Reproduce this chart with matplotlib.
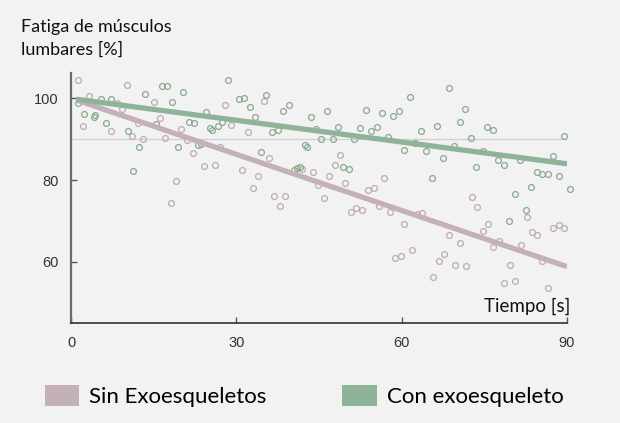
import matplotlib
matplotlib.use("Agg")
import matplotlib.pyplot as plt
from matplotlib.patches import Patch

# scatter values: (seconds, %)
sin_x = [1.2, 3.3, 2.2, 8.4, 9.2, 7.2, 11.1, 13.1, 10.1, 15.1, 16.2, 12.1, 17.1, 20.0,
         21.0, 22.1, 24.2, 26.1, 19.1, 27.1, 28.0, 29.0, 18.1, 35.0, 32.1, 48.9, 35.9,
         31.0, 34.0, 42.0, 43.9, 47.9, 46.9, 44.8, 49.8, 33.0, 36.9, 38.9, 45.9, 56.8,
         53.9, 54.9, 38.0, 50.8, 51.8, 52.8, 55.8, 57.8, 60.5, 58.8, 59.8, 72.7, 73.6,
         82.7, 62.7, 63.7, 75.7, 74.7, 68.6, 83.6, 84.6, 87.5, 88.5, 89.5, 77.7, 76.6,
         81.6, 70.6, 61.8, 67.7, 66.7, 69.7, 71.6, 85.5, 79.6, 65.7, 78.6, 80.6, 86.6]
sin_y = [104.5, 100.6, 93.2, 98.9, 97.4, 92.0, 90.7, 90.1, 103.2, 99.2, 95.3, 94.1, 90.4, 92.4,
         89.8, 86.6, 83.5, 83.7, 79.7, 88.0, 98.4, 93.5, 74.4, 99.4, 91.8, 86.2, 85.3,
         82.5, 81.1, 82.8, 81.9, 83.7, 81.0, 78.9, 79.3, 78.0, 76.2, 76.1, 75.6, 80.6,
         77.6, 78.0, 73.6, 72.3, 73.1, 72.6, 73.6, 72.2, 69.3, 61.0, 61.4, 75.8, 73.3,
         70.9, 71.7, 71.9, 69.3, 67.5, 66.5, 67.2, 66.6, 68.3, 69.0, 68.3, 65.2, 63.7,
         64.2, 64.5, 62.8, 62.0, 60.3, 59.1, 58.9, 60.1, 59.1, 56.3, 54.9, 55.4, 53.6]

con_x = [1.3, 2.4, 4.2, 4.4, 5.4, 7.2, 6.3, 10.4, 12.4, 11.3, 13.5, 16.5, 17.4, 18.4,
         20.4, 15.4, 19.4, 21.5, 22.4, 23.1, 23.5, 24.5, 25.2, 25.5, 26.6, 28.4, 27.4,
         30.4, 31.4, 35.4, 32.4, 33.4, 38.5, 39.5, 36.4, 37.5, 43.5, 46.4, 44.5, 45.4,
         47.5, 48.5, 51.4, 52.5, 53.5, 54.5, 55.5, 56.5, 58.4, 59.5, 57.5, 60.4, 42.4,
         42.9, 34.5, 40.5, 41.0, 41.5, 49.4, 50.5, 61.5, 68.5, 71.5, 70.5, 66.5, 63.5,
         75.5, 76.5, 72.5, 89.5, 62.5, 64.5, 69.5, 67.5, 74.7, 73.5, 77.5, 78.5, 81.5,
         87.5, 84.5, 85.5, 86.5, 88.6, 65.5, 83.5, 90.5, 80.5, 82.5, 79.5]
con_y = [98.8, 96.2, 95.4, 96.0, 99.9, 99.8, 94.0, 92.1, 88.0, 82.3, 101.1, 103.0, 103.1, 99.2,
         101.5, 93.7, 88.2, 94.3, 94.1, 88.6, 88.9, 96.6, 92.7, 92.3, 93.2, 104.5, 94.3,
         99.8, 100.2, 100.8, 98.0, 95.5, 96.8, 98.4, 91.8, 92.2, 95.4, 97.0, 92.5, 90.1,
         90.1, 93.1, 90.1, 92.8, 97.2, 92.0, 93.1, 96.5, 95.8, 96.8, 90.6, 87.4, 88.6,
         88.0, 87.0, 82.5, 82.9, 83.3, 83.1, 82.8, 100.4, 102.6, 97.3, 94.3, 93.3, 92.0,
         93.1, 92.3, 90.3, 90.7, 89.0, 87.2, 88.4, 85.5, 87.1, 83.1, 85.0, 83.7, 84.8,
         85.9, 82.1, 81.6, 81.6, 81.1, 80.5, 78.4, 77.8, 76.6, 72.6, 69.9]

# trend lines
trend_x = [1, 90]
sin_trend = [99.6, 58.8]
con_trend = [99.8, 84.0]

ref_y = 90
xticks = [0, 30, 60, 90]
yticks = [60, 80, 100]

pink = "#c4b0b8"
green = "#8fb398"
bg = "#f2f2f2"

fig = plt.figure(figsize=(6.2, 4.23), dpi=100, facecolor=bg)
ax = fig.add_axes([71 / 620, 1 - 323 / 423, 496 / 620, 250.3 / 423])
ax.set_facecolor(bg)

ax.plot([0, 90], [ref_y, ref_y], color="#d0d0d0", lw=0.9, zorder=1)

ax.plot(sin_x, sin_y, "o", mfc="none", mec="#bfa9b3", ms=4.2, mew=0.9, zorder=2,
        clip_on=False)
ax.plot(con_x, con_y, "o", mfc="none", mec="#88a98e", ms=4.2, mew=0.9, zorder=2,
        clip_on=False)

ax.plot(trend_x, sin_trend, color=pink, lw=3.8, solid_capstyle="butt", zorder=3)
ax.plot(trend_x, con_trend, color=green, lw=3.8, solid_capstyle="butt", zorder=4)

ax.set_xlim(0, 90)
ax.set_ylim(45, 106.3)
ax.set_xticks(xticks)
ax.set_yticks(yticks)
ax.tick_params(direction="in", length=4, width=1, colors="#555555",
               labelcolor="#333333", labelsize=10.5, pad=9)
for lab in ax.get_xticklabels() + ax.get_yticklabels():
    lab.set_family("Liberation Sans")

for s in ["top", "right"]:
    ax.spines[s].set_visible(False)
ax.spines["left"].set_color("#6a6a6a")
ax.spines["left"].set_linewidth(1.6)
ax.spines["bottom"].set_color("#333333")
ax.spines["bottom"].set_linewidth(1.2)

ax.text(1.006, 0.045, "Tiempo [s]", transform=ax.transAxes, ha="right",
        va="baseline", fontsize=13.5, family="Lato", color="#111111")

fig.text(21 / 620, 1 - 32 / 423, "Fatiga de músculos", fontsize=13,
         family="Lato", color="#111111", va="baseline")
fig.text(21 / 620, 1 - 55 / 423, "lumbares [%]", fontsize=13,
         family="Lato", color="#111111", va="baseline")

handles = [Patch(facecolor=pink, edgecolor="none"),
           Patch(facecolor=green, edgecolor="none")]
fig.legend(handles, ["Sin Exoesqueletos", "Con exoesqueleto"], loc="center left",
           bbox_to_anchor=(45 / 620, 1 - 396 / 423), ncol=2, frameon=False,
           prop={"family": "Lato", "size": 16}, handlelength=1.55, handleheight=1.1,
           handletextpad=0.45, columnspacing=3.4, borderpad=0, borderaxespad=0)

fig.savefig("out.png", dpi=100, facecolor=bg)
